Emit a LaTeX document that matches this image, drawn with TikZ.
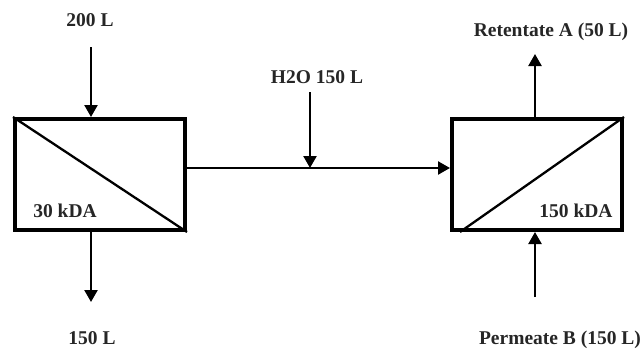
\documentclass[tikz,border=0pt]{standalone}
\usepackage{fontspec}
\setmainfont{Liberation Serif}
\usetikzlibrary{arrows.meta}
\begin{document}
\begin{tikzpicture}[x=1pt,y=-1pt,
  lbl/.style={font=\fontsize{19.5}{22}\selectfont\bfseries, inner sep=0pt, text=black!85},
  unit/.style={draw, line width=4pt, minimum width=170pt, minimum height=111pt, inner sep=0pt},
  flow/.style={line width=2.3pt, -{Triangle[length=12pt,width=13pt]}},
  diag/.style={line width=2.3pt}]
\useasboundingbox (0,0) rectangle (643,351);
\node[unit] (b1) at (100,174.5) {};
\node[unit] (b2) at (537,174.5) {};
\draw[diag] (b1.north west) -- (b1.south east);
\draw[diag] ([xshift=10pt]b2.south west) -- (b2.north east);
\node[lbl] (t200) at (90,20) {200 L};
\node[lbl] (t150) at (92,338) {150 L};
\node[lbl] (th2o) at (317,77) {H2O 150 L};
\node[lbl] (tret) at (551,32) {Retentate A (50 L)};
\node[lbl] (tper) at (560,340) {Permeate B (150 L)};
\node[lbl] (k30) at (65,211) {30 kDA};
\node[lbl] (k150) at (576,211) {150 kDA};
\coordinate (a1) at (91,47);
\coordinate (a2) at (91,302);
\coordinate (a3) at (310,92);
\coordinate (a4) at (310,168);
\coordinate (a5) at (535,54);
\coordinate (a6) at (535,297);
\coordinate (m1) at (b1.east |- a4);
\draw[flow] (a1) -- (a1 |- b1.north);
\draw[flow] (a1 |- b1.south) -- (a2);
\draw[flow] (a3) -- (a4);
\draw[flow] (m1) -- (m1 -| b2.west);
\draw[flow] (a5 |- b2.north) -- (a5);
\draw[flow] (a6) -- (a6 |- b2.south);
\end{tikzpicture}
\end{document}
